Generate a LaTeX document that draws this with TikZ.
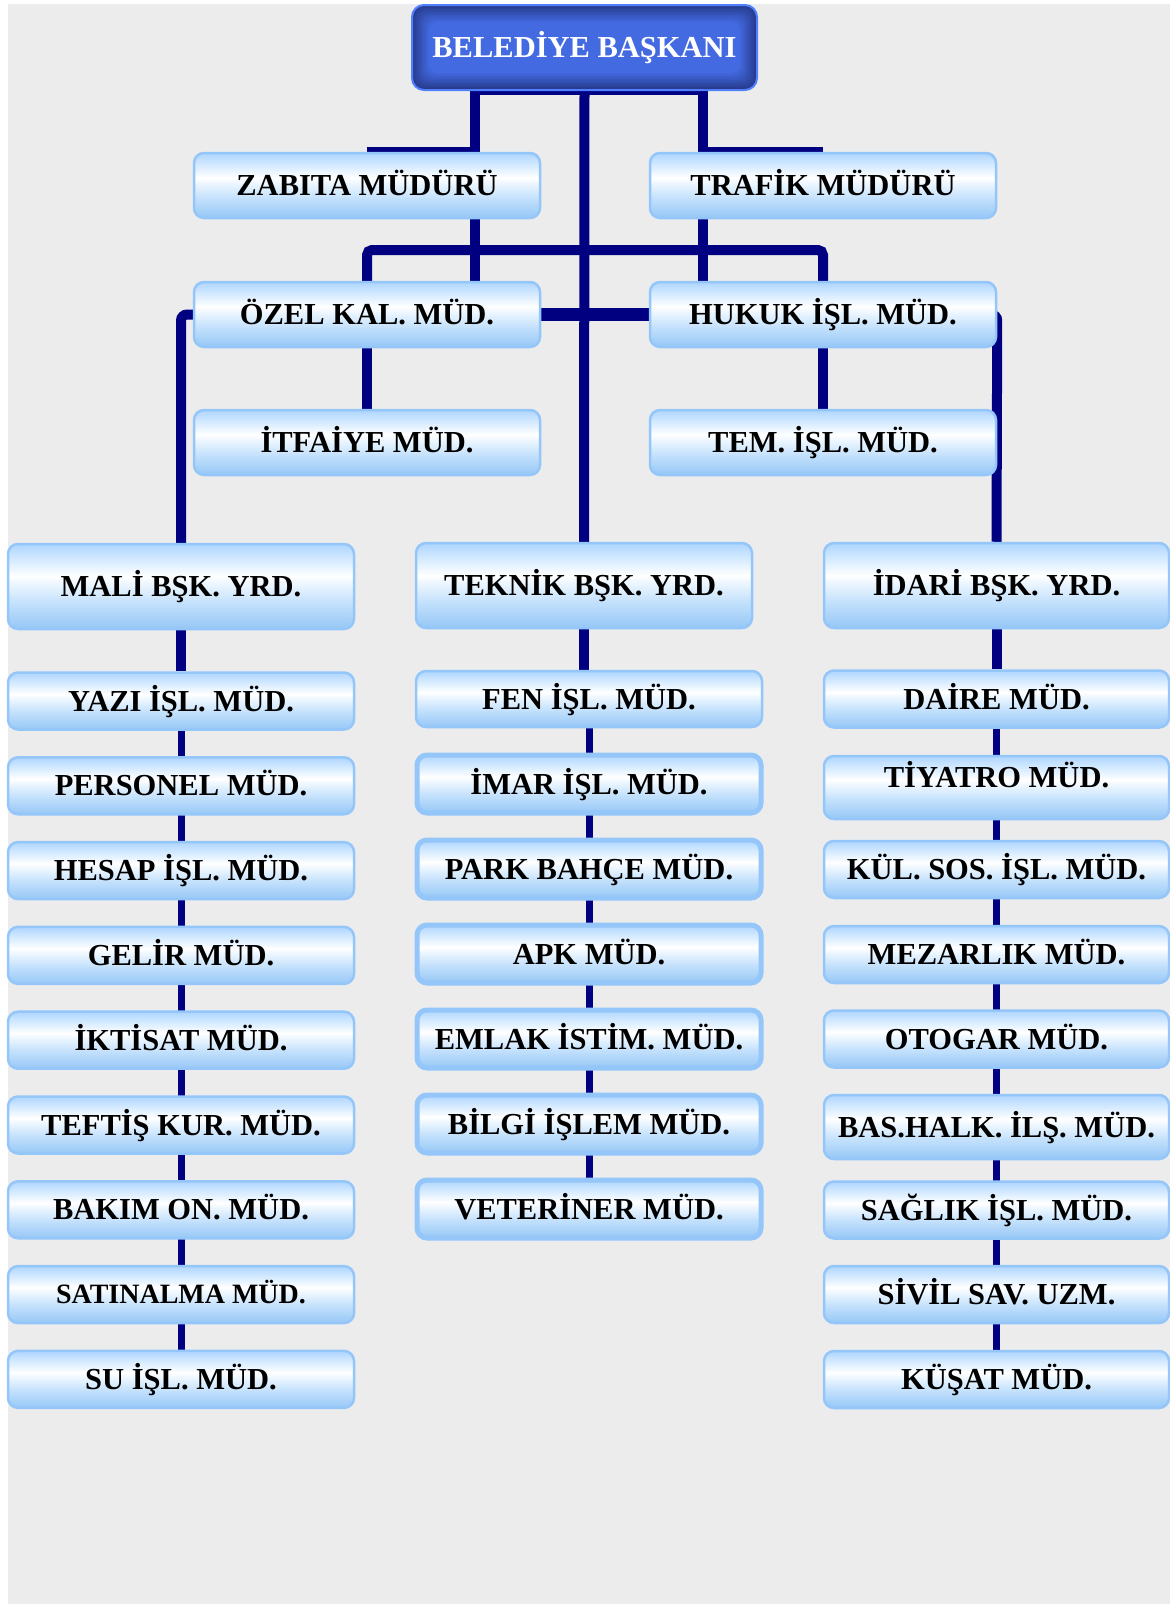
\documentclass[tikz,border=0pt]{standalone}
\usepackage{fontspec}
\setmainfont{Liberation Serif}
\usetikzlibrary{calc}
\definecolor{navyline}{RGB}{0,0,128}
\definecolor{bgray}{RGB}{236,236,236}
\definecolor{lbB}{RGB}{150,199,246}
\definecolor{lbC}{RGB}{194,224,252}
\definecolor{lbD}{RGB}{238,247,255}
\definecolor{lbE}{RGB}{212,234,255}
\definecolor{lbT}{RGB}{174,213,255}
\definecolor{lbdraw}{RGB}{148,198,250}
\definecolor{topout}{RGB}{38,58,140}
\definecolor{topin}{RGB}{68,106,226}
\definecolor{topdraw}{RGB}{80,128,255}
\pgfdeclareverticalshading{lbshade}{100bp}{color(0bp)=(lbB); color(25bp)=(lbB); color(40bp)=(lbC); color(52bp)=(lbD); color(56bp)=(white); color(66bp)=(lbE); color(75bp)=(lbT); color(100bp)=(lbT)}
\pgfdeclarelayer{bg}
\pgfsetlayers{bg,main}
\tikzset{
  lbox/.style={draw=lbdraw, line width=2.5pt, rounded corners=10pt, shade, shading=lbshade,
    minimum width=346pt, minimum height=57pt, inner sep=0pt, text height=20.2pt, text depth=0pt,
    font=\fontsize{30.5}{36}\selectfont\bfseries, text=black},
  mbox/.style={lbox, line width=5pt, minimum width=344pt, minimum height=58pt},
  topbox/.style={draw=topdraw, line width=2pt, rounded corners=12pt, fill=topout,
    minimum width=345pt, minimum height=85pt, inner sep=0pt, text height=20.2pt, text depth=0pt,
    font=\fontsize{30.5}{36}\selectfont\bfseries, text=white,
    path picture={
      \foreach \i in {1,...,12}{
        \pgfmathtruncatemacro{\p}{\i*100/12}
        \fill[topin!\p!topout, rounded corners=10pt]
          ($(path picture bounding box.north west)+(\i*1.4,\i*1.4)$) rectangle
          ($(path picture bounding box.south east)+(-\i*1.4,-\i*1.4)$);
      }
    }},
  conn/.style={draw=navyline, line width=10pt},
  connthin/.style={draw=navyline, line width=7pt},
}
\begin{document}
\begin{tikzpicture}[x=1pt,y=-1pt]
\useasboundingbox (0,0) rectangle (1170,1604);
\begin{pgfonlayer}{bg}
  \fill[white] (0,0) rectangle (1170,1604);
  \fill[bgray] (8,4) rectangle (1170,1604);
\end{pgfonlayer}

% top levels
\node[topbox] (top) at (584.5,47.5) {BELEDİYE BAŞKANI};
\node[lbox, minimum height=65pt] (zab) at (367,185.5) {ZABITA MÜDÜRÜ};
\node[lbox, minimum height=65pt] (tra) at (823,185.5) {TRAFİK MÜDÜRÜ};
\node[lbox, minimum height=65pt] (ozel) at (367,314.5) {ÖZEL KAL. MÜD.};
\node[lbox, minimum height=65pt] (huk) at (823,314.5) {HUKUK İŞL. MÜD.};
\node[lbox, minimum height=65pt] (itf) at (367,442.5) {İTFAİYE MÜD.};
\node[lbox, minimum height=65pt] (tem) at (823,442.5) {TEM. İŞL. MÜD.};

% deputies
\node[lbox, minimum height=85pt] (mali) at (181,586.5) {MALİ BŞK. YRD.};
\node[lbox, minimum height=85pt, minimum width=336pt] (tek) at (584,585.5) {TEKNİK BŞK. YRD.};
\node[lbox, minimum height=85pt, minimum width=345pt] (ida) at (996.5,585.5) {İDARİ BŞK. YRD.};

% left column
\node[lbox] (yazi)  at (181,701)    {YAZI İŞL. MÜD.};
\node[lbox] (pers)  at (181,785.8)  {PERSONEL MÜD.};
\node[lbox] (hesap) at (181,870.6)  {HESAP İŞL. MÜD.};
\node[lbox] (gelir) at (181,955.4)  {GELİR MÜD.};
\node[lbox] (ikt)   at (181,1040.2) {İKTİSAT MÜD.};
\node[lbox] (teft)  at (181,1125)   {TEFTİŞ KUR. MÜD.};
\node[lbox] (bakim) at (181,1209.8) {BAKIM ON. MÜD.};
\node[lbox, font=\fontsize{28}{34}\selectfont\bfseries, text height=18.5pt] (satin) at (181,1294.6) {SATINALMA MÜD.};
\node[lbox] (su)    at (181,1379.4) {SU İŞL. MÜD.};

% middle column
\node[lbox, minimum width=346pt, minimum height=56pt] (fen) at (589,699) {FEN İŞL. MÜD.};
\node[mbox] (imar)  at (589,784)  {İMAR İŞL. MÜD.};
\node[mbox] (park)  at (589,869)  {PARK BAHÇE MÜD.};
\node[mbox] (apk)   at (589,954)  {APK MÜD.};
\node[mbox] (emlak) at (589,1039) {EMLAK İSTİM. MÜD.};
\node[mbox] (bilgi) at (589,1124) {BİLGİ İŞLEM MÜD.};
\node[mbox] (vet)   at (589,1209) {VETERİNER MÜD.};

% right column
\node[lbox, minimum width=345pt] (daire) at (996.5,699)    {DAİRE MÜD.};
\node[lbox, minimum width=345pt, minimum height=63pt, text depth=21pt] (tiy) at (996.5,787.5) {TİYATRO MÜD.};
\node[lbox, minimum width=345pt] (kul)   at (996.5,869.5)  {KÜL. SOS. İŞL. MÜD.};
\node[lbox, minimum width=345pt] (mez)   at (996.5,954.5)  {MEZARLIK MÜD.};
\node[lbox, minimum width=345pt] (oto)   at (996.5,1039)   {OTOGAR MÜD.};
\node[lbox, minimum width=345pt, minimum height=64pt] (bas) at (996.5,1127) {BAS.HALK. İLŞ. MÜD.};
\node[lbox, minimum width=345pt] (sag)   at (996.5,1210)   {SAĞLIK İŞL. MÜD.};
\node[lbox, minimum width=345pt] (sivil) at (996.5,1294.5) {SİVİL SAV. UZM.};
\node[lbox, minimum width=345pt] (kusat) at (996.5,1379.5) {KÜŞAT MÜD.};

\coordinate (jA) at (475,90);
\coordinate (jB) at (703,90);
\coordinate (jC) at (475,250);

\begin{pgfonlayer}{bg}
  % from mayor
  \draw[conn] (zab.north) -- (zab.north -| jA) -- (jA) -- (jB) -- (jB |- tra.north) -- (tra.north);
  \draw[conn] (top.south) -- (tek.north);
  % second level
  \draw[conn] (zab.south -| jA) -- (ozel.north -| jA);
  \draw[conn] (tra.south -| jB) -- (huk.north -| jB);
  \draw[conn, rounded corners=5pt] (ozel.north) -- (ozel.north |- jC) -- (huk.north |- jC) -- (huk.north);
  \draw[conn, line width=13pt] (ozel.east) -- (huk.west);
  \draw[conn] (ozel.south) -- (itf.north);
  \draw[conn] (huk.south) -- (tem.north);
  % to deputies
  \draw[conn, rounded corners=6pt] (ozel.west) -| (mali.north);
  \draw[conn, rounded corners=6pt] ([xshift=-10pt]huk.east) -- (huk.east) -- (ida.north);
  % columns
  \draw[conn] (mali.south) -- (yazi.north);
  \draw[connthin] (yazi.south) -- (su.north);
  \draw[conn] (tek.south) -- (tek.south |- fen.north);
  \draw[connthin] (fen.south) -- (vet.north);
  \draw[conn] (ida.south) -- (daire.north);
  \draw[connthin] (daire.south) -- (kusat.north);
\end{pgfonlayer}
\end{tikzpicture}
\end{document}
